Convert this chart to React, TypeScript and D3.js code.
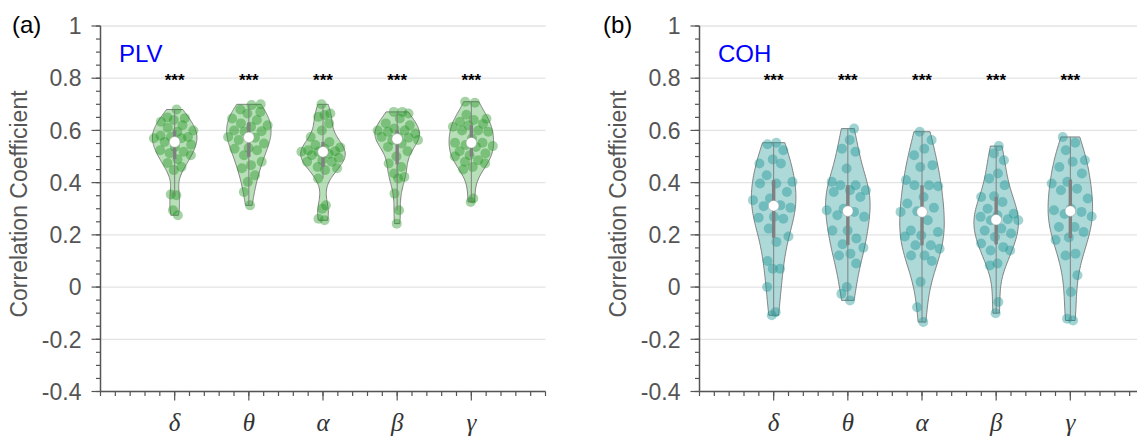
import React from 'react';
import * as d3 from 'd3';

// ---------- data ----------
const categories = ['δ', 'θ', 'α', 'β', 'γ'];
const yTickValues = [1, 0.8, 0.6, 0.4, 0.2, 0, -0.2, -0.4];
const yTickLabels = ['1', '0.8', '0.6', '0.4', '0.2', '0', '-0.2', '-0.4'];
const significance = ['***', '***', '***', '***', '***'];

const plvDelta = [0.68, 0.65, 0.647, 0.64, 0.633, 0.62, 0.61, 0.60, 0.595, 0.58, 0.575, 0.575, 0.57, 0.57, 0.556, 0.545, 0.537, 0.524, 0.518, 0.513, 0.505, 0.49, 0.475, 0.46, 0.448, 0.355, 0.352, 0.294, 0.275];
const plvTheta = [0.70, 0.697, 0.68, 0.671, 0.665, 0.646, 0.64, 0.627, 0.62, 0.614, 0.60, 0.597, 0.595, 0.575, 0.572, 0.563, 0.55, 0.533, 0.53, 0.524, 0.505, 0.48, 0.467, 0.455, 0.428, 0.403, 0.364, 0.313];
const plvAlpha = [0.70, 0.665, 0.659, 0.652, 0.627, 0.60, 0.575, 0.556, 0.544, 0.535, 0.53, 0.524, 0.52, 0.518, 0.518, 0.51, 0.505, 0.495, 0.486, 0.48, 0.48, 0.46, 0.455, 0.448, 0.416, 0.313, 0.30, 0.262, 0.256];
const plvBeta = [0.671, 0.671, 0.665, 0.646, 0.627, 0.62, 0.607, 0.60, 0.60, 0.595, 0.588, 0.575, 0.575, 0.572, 0.563, 0.563, 0.55, 0.537, 0.52, 0.50, 0.473, 0.46, 0.435, 0.422, 0.416, 0.358, 0.294, 0.243];
const plvGamma = [0.71, 0.706, 0.66, 0.645, 0.64, 0.633, 0.625, 0.62, 0.614, 0.60, 0.60, 0.595, 0.569, 0.553, 0.553, 0.544, 0.54, 0.537, 0.52, 0.512, 0.505, 0.50, 0.486, 0.48, 0.473, 0.46, 0.45, 0.339, 0.326];

const cohDelta = [0.553, 0.547, 0.524, 0.489, 0.473, 0.473, 0.428, 0.403, 0.397, 0.397, 0.364, 0.339, 0.333, 0.313, 0.31, 0.304, 0.269, 0.266, 0.262, 0.224, 0.194, 0.173, 0.10, 0.07, 0.07, 0.0, -0.096, -0.108];
const cohTheta = [0.607, 0.563, 0.53, 0.518, 0.454, 0.403, 0.39, 0.39, 0.371, 0.371, 0.364, 0.345, 0.30, 0.294, 0.288, 0.275, 0.269, 0.217, 0.217, 0.186, 0.164, 0.151, 0.128, 0.121, 0.09, 0.0, -0.026, -0.051];
const cohAlpha = [0.595, 0.563, 0.53, 0.505, 0.467, 0.46, 0.41, 0.39, 0.39, 0.386, 0.345, 0.32, 0.304, 0.29, 0.288, 0.256, 0.217, 0.211, 0.198, 0.194, 0.16, 0.16, 0.147, 0.121, 0.121, 0.10, 0.02, -0.077, -0.134];
const cohBeta = [0.54, 0.512, 0.486, 0.435, 0.416, 0.39, 0.348, 0.345, 0.326, 0.30, 0.281, 0.275, 0.269, 0.26, 0.256, 0.256, 0.224, 0.217, 0.205, 0.192, 0.167, 0.153, 0.14, 0.14, 0.09, 0.083, -0.057, -0.10];
const cohGamma = [0.575, 0.553, 0.524, 0.486, 0.48, 0.46, 0.435, 0.403, 0.397, 0.377, 0.371, 0.339, 0.30, 0.294, 0.288, 0.28, 0.27, 0.23, 0.23, 0.211, 0.19, 0.18, 0.128, 0.121, 0.045, -0.019, -0.121, -0.128];

const panels = [
  { tag: '(a)', name: 'PLV', series: [plvDelta, plvTheta, plvAlpha, plvBeta, plvGamma], color: 'rgb(40,160,40)', dotColor: 'rgb(30,145,30)', axisX: 100.5, tagX: 12, nameX: 119 },
  { tag: '(b)', name: 'COH', series: [cohDelta, cohTheta, cohAlpha, cohBeta, cohGamma], color: 'rgb(10,140,140)', dotColor: 'rgb(20,145,145)', axisX: 699.5, tagX: 603, nameX: 718 },
];

// ---------- layout ----------
const W = 1137;
const H = 436;
const PLOT_W = 445;
const Y_TOP = 26;
const Y_BOT = 391.5;
const HALF_WIDTH = 0.3;
const SANS = '"Liberation Sans", Arial, Helvetica, sans-serif';
const GRAY_TXT = '#555';
const AXIS_C = '#555';

function kde(values: number[]) {
  const n = values.length;
  const med = d3.median(values)!;
  const mad = d3.median(values.map((v) => Math.abs(v - med)))!;
  const sig = mad / 0.6745;
  const bw = sig * Math.pow(4 / (3 * n), 0.2);
  const f = (x: number) =>
    d3.sum(values, (v) => Math.exp(-0.5 * ((x - v) / bw) ** 2)) / (n * bw * Math.sqrt(2 * Math.PI));
  return f;
}

function Violin({ values, pos, x, y, color, dotColor, idx }: any) {
  const sorted = values.slice().sort(d3.ascending);
  const lo = sorted[0];
  const hi = sorted[sorted.length - 1];
  const f = kde(values);
  const grid = d3.range(0, 101).map((i) => lo + ((hi - lo) * i) / 100);
  const dens = grid.map(f);
  const maxD = d3.max(dens)!;
  const wAt = (v: number) => (f(v) / maxD) * HALF_WIDTH;
  const pts: [number, number][] = [];
  grid.forEach((g, i) => pts.push([x(pos + (dens[i] / maxD) * HALF_WIDTH), y(g)]));
  for (let i = grid.length - 1; i >= 0; i--) pts.push([x(pos - (dens[i] / maxD) * HALF_WIDTH), y(grid[i])]);
  const path = d3.line()(pts) + 'Z';
  const q1 = d3.quantile(sorted, 0.25)!;
  const q3 = d3.quantile(sorted, 0.75)!;
  const med = d3.median(sorted)!;
  const iqr = q3 - q1;
  const inW = sorted.filter((v: number) => v >= q1 - 1.5 * iqr && v <= q3 + 1.5 * iqr);
  const wLo = d3.min(inW)!;
  const wHi = d3.max(inW)!;
  const cx = x(pos);
  return (
    <g>
      <path d={path} fill={color} fillOpacity={0.33} stroke="#808080" strokeWidth={1} />
      {values.map((v: number, i: number) => {
        const j = (((i + 1) * 0.6180339887 + idx * 0.37) % 1) * 2 - 1;
        return <circle key={i} cx={x(pos + j * wAt(v))} cy={y(v)} r={5} fill={dotColor} fillOpacity={0.4} />;
      })}
      <line x1={cx} x2={cx} y1={y(wLo)} y2={y(wHi)} stroke="#808080" strokeWidth={1} />
      <rect x={cx - 1.7} width={3.4} y={y(q3)} height={y(q1) - y(q3)} fill="#808080" />
      <circle cx={cx} cy={y(med)} r={5.3} fill="#fff" stroke="#999" strokeWidth={0.5} />
    </g>
  );
}

function Panel({ p }: any) {
  const x = d3.scaleLinear().domain([0, 6]).range([p.axisX, p.axisX + PLOT_W]);
  const y = d3.scaleLinear().domain([-0.4, 1]).range([Y_BOT, Y_TOP]);
  const yMinor = d3.range(-0.4, 1.0001, 0.05);
  const xMinor = d3.range(0, 6.0001, 0.2);
  return (
    <g>
      {yTickValues.map((t) => (
        <line key={'g' + t} x1={p.axisX} x2={p.axisX + PLOT_W} y1={y(t)} y2={y(t)} stroke="#e3e3e3" strokeWidth={1.3} />
      ))}
      {p.series.map((vals: number[], i: number) => (
        <Violin key={i} values={vals} pos={i + 1} x={x} y={y} color={p.color} dotColor={p.dotColor} idx={i} />
      ))}
      {significance.map((s, i) => (
        <text key={'s' + i} x={x(i + 1)} y={86} textAnchor="middle" fontFamily={SANS} fontSize={17} fontWeight="bold" fill="#000">
          {s}
        </text>
      ))}
      {/* y axis */}
      <line x1={p.axisX} x2={p.axisX} y1={Y_TOP} y2={Y_BOT} stroke={AXIS_C} strokeWidth={1.5} />
      {yMinor.map((t, i) => (
        <line key={'ym' + i} x1={p.axisX - 4.5} x2={p.axisX} y1={y(t)} y2={y(t)} stroke={AXIS_C} strokeWidth={1.2} />
      ))}
      {yTickValues.map((t, i) => (
        <g key={'yt' + i}>
          <line x1={p.axisX - 9} x2={p.axisX} y1={y(t)} y2={y(t)} stroke={AXIS_C} strokeWidth={1.2} />
          <text x={p.axisX - 19} y={y(t)} dy="0.36em" textAnchor="end" fontFamily={SANS} fontSize={23} fill={GRAY_TXT}>
            {yTickLabels[i]}
          </text>
        </g>
      ))}
      {/* x axis */}
      <line x1={p.axisX} x2={p.axisX + PLOT_W} y1={Y_BOT} y2={Y_BOT} stroke={AXIS_C} strokeWidth={1.5} />
      {xMinor.map((t, i) => (
        <line key={'xm' + i} x1={x(t)} x2={x(t)} y1={Y_BOT} y2={Y_BOT + 4.5} stroke={AXIS_C} strokeWidth={1.2} />
      ))}
      {categories.map((c, i) => (
        <g key={'xt' + i}>
          <line x1={x(i + 1)} x2={x(i + 1)} y1={Y_BOT} y2={Y_BOT + 9} stroke={AXIS_C} strokeWidth={1.2} />
          <text x={x(i + 1)} y={431} textAnchor="middle" fontFamily='"Liberation Serif", "Times New Roman", serif' fontStyle="italic" fontSize={25} fill="#333">
            {c}
          </text>
        </g>
      ))}
      <text
        transform={`translate(${p.axisX - 74},${204}) rotate(-90)`}
        textAnchor="middle"
        fontFamily={SANS}
        fontSize={23}
        fill={GRAY_TXT}
      >
        Correlation Coefficient
      </text>
      <text x={p.tagX} y={33} fontFamily={SANS} fontSize={24} fill="#000">
        {p.tag}
      </text>
      <text x={p.nameX} y={62} fontFamily={SANS} fontSize={24} fill="#0000ff">
        {p.name}
      </text>
    </g>
  );
}

export default function App() {
  return (
    <svg width={W} height={H} style={{ position: 'absolute', left: 0, top: 0, background: '#fff' }}>
      <rect width={W} height={H} fill="#fff" />
      {panels.map((p, i) => (
        <Panel key={i} p={p} />
      ))}
    </svg>
  );
}
